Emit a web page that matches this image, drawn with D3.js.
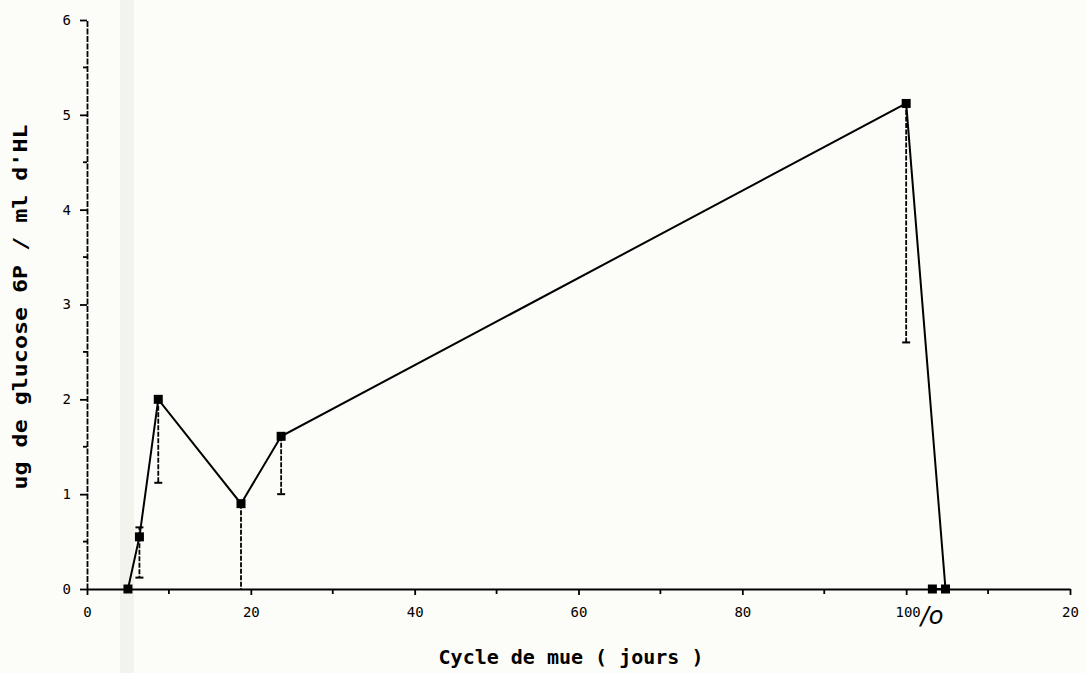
<!DOCTYPE html>
<html>
<head>
<meta charset="utf-8">
<script src="https://cdn.jsdelivr.net/npm/d3@7"></script>
<style>
  body { margin: 0; background: #fcfcf8; }
  svg { display: block; }
</style>
</head>
<body>
<div class="container"></div>
<script>
// data
var days = [5, 6.4, 8.7, 18.8, 23.7, 100, 104.8, 103.2];
var glucose = [0, 0.55, 2.0, 0.9, 1.61, 5.12, 0, 0];
var errLow = [null, 0.12, 1.12, 0, 1.0, 2.6, null, null];
var errHigh = [null, 0.65, null, null, null, null, null, null];

var yTicks = [0, 1, 2, 3, 4, 5, 6];
var yMinor = [0.5, 1.5, 2.5, 3.5, 4.5, 5.5];
var xTicks = [0, 20, 40, 60, 80, 100, 120];
var xMinor = [10, 30, 50, 70, 90, 110];
var xTickLabels = ["0", "20", "40", "60", "80", "100", "20"];

var w = 1086, h = 673;

var svg = d3.select(".container")
    .append("svg")
    .attr("width", w)
    .attr("height", h);

// faint scanner band
svg.append("rect")
    .attr("x", 120).attr("y", 0)
    .attr("width", 14).attr("height", h)
    .attr("fill", "#f3f3ee");

var x = d3.scaleLinear().domain([0, 120]).range([87, 1070]);
var y = d3.scaleLinear().domain([0, 6]).range([589, 20]);

var font = "'DejaVu Sans Mono', 'Liberation Mono', monospace";

// y axis
var yAxis = d3.axisLeft(y)
    .tickValues(yTicks)
    .tickFormat(d3.format("d"))
    .tickSize(7)
    .tickPadding(9)
    .tickSizeOuter(0);

var yg = svg.append("g")
    .attr("class", "yaxis")
    .attr("transform", "translate(" + x(0) + ",0)")
    .call(yAxis);

yg.select(".domain").attr("stroke-width", 1.8).attr("stroke-dasharray", "6,1.5");
yg.selectAll(".tick line").attr("stroke-width", 1.8);
yg.selectAll(".tick text")
    .attr("font-family", font)
    .attr("font-size", "14px");

yg.selectAll(".minor")
    .data(yMinor)
    .enter()
    .append("line")
    .attr("class", "minor")
    .attr("x1", -4).attr("x2", 0)
    .attr("y1", function(d) { return y(d); })
    .attr("y2", function(d) { return y(d); })
    .attr("stroke", "black")
    .attr("stroke-width", 1.8);

// x axis
var xAxis = d3.axisBottom(x)
    .tickValues(xTicks)
    .tickSize(6)
    .tickPadding(12)
    .tickSizeOuter(0)
    .tickFormat(function(d, i) { return xTickLabels[i]; });

var xg = svg.append("g")
    .attr("class", "xaxis")
    .attr("transform", "translate(0," + y(0) + ")")
    .call(xAxis);

xg.select(".domain").attr("stroke-width", 2);
xg.selectAll(".tick line").attr("stroke-width", 1.8);
xg.selectAll(".tick text")
    .attr("font-family", font)
    .attr("font-size", "14px");

// the "/0" break mark after 100
xg.selectAll(".tick text")
    .filter(function(d) { return d === 100; })
    .attr("text-anchor", "start")
    .attr("dx", "-0.8em")
    .append("tspan")
    .attr("font-size", "24px")
    .attr("font-style", "italic")
    .attr("font-family", "'DejaVu Sans', sans-serif")
    .attr("dy", "0.3em")
    .text("/o");

xg.selectAll(".minor")
    .data(xMinor)
    .enter()
    .append("line")
    .attr("class", "minor")
    .attr("x1", function(d) { return x(d); })
    .attr("x2", function(d) { return x(d); })
    .attr("y1", 0).attr("y2", 5)
    .attr("stroke", "black")
    .attr("stroke-width", 1.8);

// error bars
var bars = [];
for (var i = 0; i < days.length; i++) {
    if (errLow[i] !== null) bars.push({ x: days[i], y0: glucose[i], y1: errLow[i] });
    if (errHigh[i] !== null) bars.push({ x: days[i], y0: glucose[i], y1: errHigh[i] });
}

svg.selectAll(".err")
    .data(bars)
    .enter()
    .append("line")
    .attr("class", "err")
    .attr("x1", function(d) { return x(d.x); })
    .attr("x2", function(d) { return x(d.x); })
    .attr("y1", function(d) { return y(d.y0); })
    .attr("y2", function(d) { return y(d.y1); })
    .attr("stroke", "black")
    .attr("stroke-width", 1.8)
    .attr("stroke-dasharray", "5,1.5");

svg.selectAll(".cap")
    .data(bars.filter(function(d) { return d.y1 > 0; }))
    .enter()
    .append("line")
    .attr("class", "cap")
    .attr("x1", function(d) { return x(d.x) - 4; })
    .attr("x2", function(d) { return x(d.x) + 4; })
    .attr("y1", function(d) { return y(d.y1); })
    .attr("y2", function(d) { return y(d.y1); })
    .attr("stroke", "black")
    .attr("stroke-width", 2);

// mean line
var pts = days.map(function(d, i) { return [d, glucose[i]]; });

var line = d3.line()
    .x(function(d) { return x(d[0]); })
    .y(function(d) { return y(d[1]); });

svg.append("path")
    .datum(pts)
    .attr("d", line)
    .attr("fill", "none")
    .attr("stroke", "black")
    .attr("stroke-width", 2);

svg.selectAll(".pt")
    .data(pts)
    .enter()
    .append("rect")
    .attr("class", "pt")
    .attr("x", function(d) { return x(d[0]) - 4.5; })
    .attr("y", function(d) { return y(d[1]) - 4.5; })
    .attr("width", 9)
    .attr("height", 9)
    .attr("fill", "black");

// axis titles
svg.append("text")
    .attr("text-anchor", "middle")
    .attr("font-family", font)
    .attr("font-weight", "bold")
    .attr("font-size", "20px")
    .attr("transform", "translate(571,664)")
    .text("Cycle de mue ( jours )");

svg.append("text")
    .attr("text-anchor", "middle")
    .attr("font-family", font)
    .attr("font-weight", "bold")
    .attr("font-size", "20px")
    .attr("textLength", 365)
    .attr("lengthAdjust", "spacingAndGlyphs")
    .attr("transform", "translate(27,307)rotate(-90)")
    .text("ug de glucose 6P / ml d'HL");
</script>
</body>
</html>
